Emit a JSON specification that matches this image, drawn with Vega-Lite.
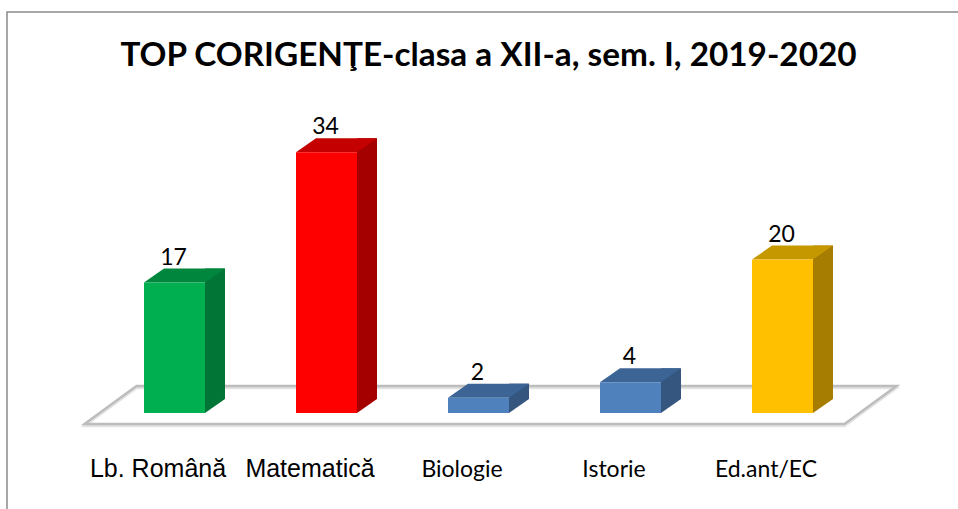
{
  "$schema": "https://vega.github.io/schema/vega-lite/v6.json",
  "width": 951,
  "height": 497,
  "autosize": {"type": "none"},
  "padding": {"left": 7, "top": 12, "right": 0, "bottom": 0},
  "background": "white",
  "title": {
    "text": "TOP CORIGENŢE-clasa a XII-a, sem. I, 2019-2020",
    "font": "Lato",
    "fontSize": 33.3,
    "fontWeight": "bold",
    "color": "black",
    "frame": "group",
    "anchor": "middle",
    "baseline": "alphabetic",
    "offset": -87,
    "dx": 6
  },
  "config": {
    "view": {"stroke": "#8a8a8a", "strokeWidth": 1.5, "strokeDash": [951, 1448, 497], "fill": "white"}
  },
  "data": {
    "values": [
      {"subject": "Lb. Română", "n": 17},
      {"subject": "Matematică", "n": 34},
      {"subject": "Biologie", "n": 2},
      {"subject": "Istorie", "n": 4},
      {"subject": "Ed.ant/EC", "n": 20}
    ]
  },
  "encoding": {
    "x": {
      "field": "subject",
      "type": "nominal",
      "sort": ["Lb. Română", "Matematică", "Biologie", "Istorie", "Ed.ant/EC"],
      "scale": {"range": [91.5, 851.5], "paddingInner": 0, "paddingOuter": 0},
      "axis": {
        "title": null,
        "orient": "bottom",
        "offset": -96,
        "domain": false,
        "ticks": false,
        "grid": false,
        "labelAngle": 0,
        "labelPadding": 63,
        "labelOffset": -16.5,
        "labelColor": "black",
        "labelBaseline": "alphabetic",
        "labelFont": {"condition": {"test": "datum.value === 'Lb. Română' || datum.value === 'Matematică'", "value": "Liberation Sans"}, "value": "Lato"},
        "labelFontSize": {"condition": {"test": "datum.value === 'Lb. Română' || datum.value === 'Matematică'", "value": 25}, "value": 23}
      }
    },
    "y": {
      "field": "n",
      "type": "quantitative",
      "scale": {"domain": [0, 40], "range": [401, 94.2]},
      "axis": null
    }
  },
  "layer": [
    {
      "transform": [{"filter": "datum.subject === 'Biologie'"}],
      "mark": {"type": "point", "shape": "M-342,-27L418,-27L366,11L-394,11Z", "size": 4, "filled": false, "stroke": "#e3e3e3", "strokeWidth": 2.5, "opacity": 1, "yOffset": 2},
      "encoding": {"y": {"datum": 0}}
    },
    {
      "transform": [{"filter": "datum.subject === 'Biologie'"}],
      "mark": {"type": "point", "shape": "M-342,-27L418,-27L366,11L-394,11Z", "size": 4, "filled": false, "stroke": "#bdbdbd", "strokeWidth": 2.5, "opacity": 1},
      "encoding": {"y": {"datum": 0}}
    },
    {
      "mark": {"type": "bar", "width": 20, "xOffset": 40.5, "yOffset": -14, "y2Offset": -14},
      "encoding": {
        "color": {"field": "subject", "type": "nominal", "legend": null,
          "scale": {"domain": ["Lb. Română", "Matematică", "Biologie", "Istorie", "Ed.ant/EC"], "range": ["#007535", "#A50000", "#34567F", "#34567F", "#A67D00"]}}
      }
    },
    {
      "mark": {"type": "point", "shape": "M30.5,-14L50.5,-14L30.5,0Z", "size": 4, "filled": true, "opacity": 1, "strokeWidth": 0},
      "encoding": {
        "y": {"datum": 0},
        "color": {"field": "subject", "type": "nominal", "legend": null,
          "scale": {"domain": ["Lb. Română", "Matematică", "Biologie", "Istorie", "Ed.ant/EC"], "range": ["#007535", "#A50000", "#34567F", "#34567F", "#A67D00"]}}
      }
    },
    {
      "mark": {"type": "point", "shape": "M-30.5,0L30.5,0L50.5,-14L-10.5,-14Z", "size": 4, "filled": true, "opacity": 1, "strokeWidth": 0},
      "encoding": {
        "color": {"field": "subject", "type": "nominal", "legend": null,
          "scale": {"domain": ["Lb. Română", "Matematică", "Biologie", "Istorie", "Ed.ant/EC"], "range": ["#00873D", "#C40000", "#3C6494", "#3C6494", "#C69800"]}}
      }
    },
    {
      "mark": {"type": "bar", "width": 61},
      "encoding": {
        "color": {"field": "subject", "type": "nominal", "legend": null,
          "scale": {"domain": ["Lb. Română", "Matematică", "Biologie", "Istorie", "Ed.ant/EC"], "range": ["#00B050", "#FF0000", "#4F81BD", "#4F81BD", "#FFC000"]}}
      }
    },
    {
      "mark": {"type": "text", "font": "Lato", "fontSize": 23, "baseline": "alphabetic", "dy": -18, "dx": -1, "color": "black"},
      "encoding": {"text": {"field": "n", "type": "quantitative"}}
    }
  ],
  "resolve": {"scale": {"color": "independent"}}
}
